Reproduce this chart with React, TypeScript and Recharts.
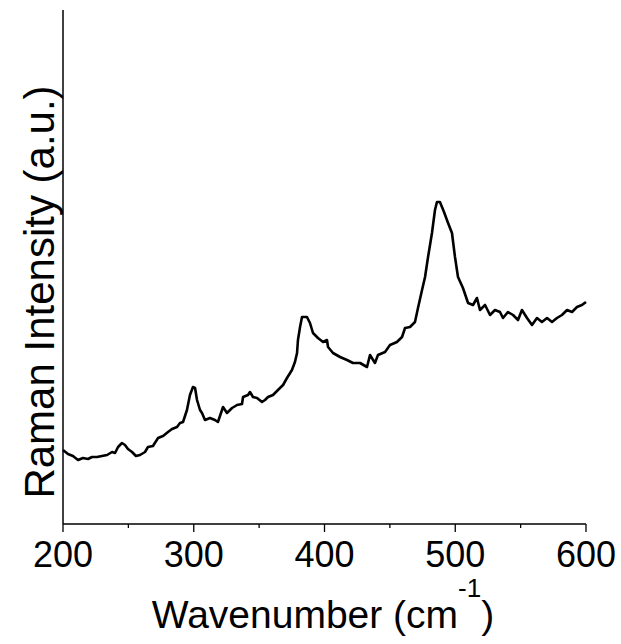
import React from 'react';
import { LineChart, Line, XAxis, YAxis, Label } from 'recharts';

const wavenumbers = [
  200, 203.8, 207.6, 211.5, 215.3, 219.1, 222.2, 226, 229.8, 233.7,
  237.5, 239.8, 242.1, 245.1, 247.4, 249.7, 252.8, 255.8, 258.9, 262.7,
  265, 268.8, 272.7, 276.5, 280.3, 283.4, 287.2, 289.5, 291.8, 294.8,
  297.1, 299.4, 301, 302.5, 304.8, 306.3, 308.6, 312.4, 316.2, 318.5,
  322.4, 325.4, 329.3, 333.1, 336.9, 337.7, 341.5, 343, 345.3, 348.4,
  352.2, 354.5, 356.8, 360.6, 364.4, 368.3, 371.3, 375.1, 377.4, 379,
  379.7, 381.3, 382.8, 386.6, 388.9, 391.2, 395, 398.9, 401.9, 402.7,
  406.5, 411.9, 417.2, 421.8, 427.2, 432.5, 434.8, 438.6, 440.9, 446.3,
  450.1, 455.4, 459.3, 461.6, 465.4, 469.2, 471.5, 474.6, 476.9, 479.2,
  482.2, 484.5, 486, 488.3, 491.4, 494.5, 497.5, 499.8, 502.1, 505.9,
  509.8, 513.6, 516.6, 518.9, 522.8, 526.6, 530.4, 534.2, 536.5, 540.3,
  544.2, 548, 551, 554.9, 558.7, 562.5, 566.3, 570.2, 574, 577.8,
  581.6, 585.5, 589.3, 593.1, 596.9, 600,
];

const intensities = [
  74, 70, 68, 64, 66, 65, 67, 67, 68, 69,
  72, 71, 77, 81, 79, 75, 72, 68, 69, 72,
  77, 78, 86, 88, 92, 95, 97, 101, 102, 114,
  129, 137, 136, 124, 114, 111, 104, 106, 104, 102,
  117, 111, 116, 119, 120, 127, 129, 132, 127, 126,
  122, 124, 127, 129, 134, 139, 146, 154, 162, 171,
  184, 197, 207, 207, 201, 191, 186, 182, 184, 177,
  171, 167, 164, 161, 161, 157, 169, 161, 169, 172,
  179, 182, 187, 196, 197, 202, 216, 234, 247, 267,
  291, 314, 322, 322, 312, 301, 291, 267, 247, 236,
  221, 219, 226, 214, 219, 209, 214, 212, 206, 212,
  209, 204, 214, 206, 199, 206, 202, 206, 202, 206,
  209, 214, 212, 217, 219, 222,
];

const majorTicks = [200, 300, 400, 500, 600];
const minorTicks = [250, 350, 450, 550];
const allTicks = [...majorTicks, ...minorTicks].sort((a, b) => a - b);

const xTitle = 'Wavenumber (cm';
const xTitleSup = '-1';
const yTitle = 'Raman Intensity (a.u.)';

const data = wavenumbers.map((w, i) => ({ wn: w, val: intensities[i] }));

const FONT = '"Liberation Sans", Arial, sans-serif';

const TickMark = (props: any) => {
  const { x, y, payload } = props;
  const isMajor = majorTicks.includes(payload.value);
  return (
    <g>
      <line x1={x} x2={x} y1={y} y2={y + (isMajor ? 8 : 4)} stroke="#000" strokeWidth={1.3} />
      {isMajor && (
        <text x={x} y={y + 17} dy="0.71em" textAnchor="middle" fontSize={36} fontFamily={FONT} fill="#000">
          {payload.value}
        </text>
      )}
    </g>
  );
};

const XTitle = () => (
  <text x={323} y={628} textAnchor="middle" fontSize={39} fontFamily={FONT} fill="#000">
    {xTitle}
    <tspan fontSize={26} dy={-31}>{xTitleSup}</tspan>
    <tspan dy={31}>)</tspan>
  </text>
);

const YTitle = () => (
  <text x={54} y={292} transform="rotate(-90 54 292)" textAnchor="middle" fontSize={42} fontFamily={FONT} fill="#000">
    {yTitle}
  </text>
);

export default function App() {
  return (
    <div style={{ position: 'absolute', left: 0, top: 0, width: 621, height: 644, background: '#fff' }}>
      <LineChart width={621} height={644} data={data} margin={{ top: 10, right: 35, bottom: 0, left: 0 }}>
        <XAxis
          type="number"
          dataKey="wn"
          domain={[200, 600]}
          ticks={allTicks}
          interval={0}
          height={120}
          tickSize={0}
          tickMargin={0}
          tickLine={false}
          axisLine={{ stroke: '#000', strokeWidth: 1.5 }}
          tick={<TickMark />}
        >
          <Label content={<XTitle />} />
        </XAxis>
        <YAxis
          type="number"
          domain={[0, 514]}
          width={63}
          tick={false}
          tickLine={false}
          axisLine={{ stroke: '#000', strokeWidth: 1.5 }}
        >
          <Label content={<YTitle />} />
        </YAxis>
        <Line
          type="linear"
          dataKey="val"
          stroke="#000"
          strokeWidth={2.6}
          strokeLinejoin="round"
          dot={false}
          isAnimationActive={false}
        />
      </LineChart>
    </div>
  );
}
